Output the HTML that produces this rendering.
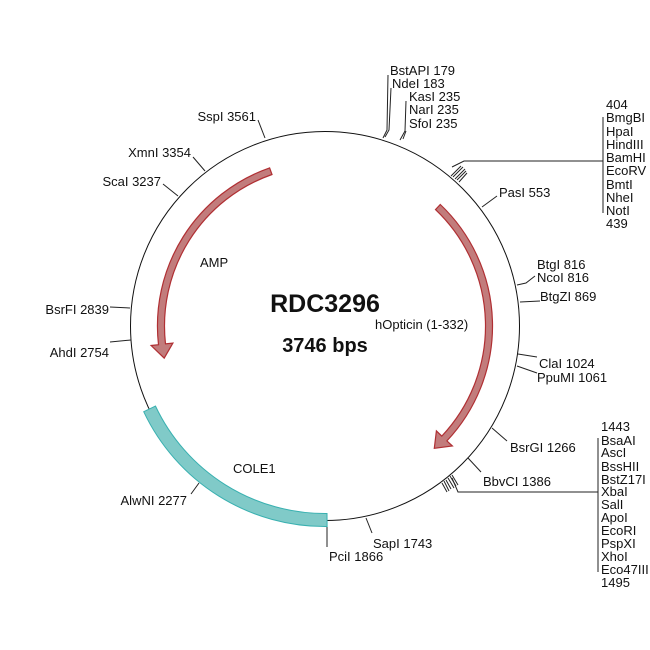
<!DOCTYPE html>
<html><head><meta charset="utf-8"><style>
html,body{margin:0;padding:0;background:#fff;width:650px;height:650px;overflow:hidden}
svg text{font-family:"Liberation Sans",Arial,sans-serif;font-size:13px;fill:#111}
</style></head><body>
<svg width="650" height="650" viewBox="0 0 650 650" xmlns="http://www.w3.org/2000/svg">
<circle cx="325" cy="326" r="194.5" fill="none" stroke="#111" stroke-width="1"/>
<!-- features -->
<path d="M440.3,204.5 A167.5,167.5 0 0 1 446.9,440.9 L452.4,446.0 L434.3,448.3 L436.4,430.9 L441.8,436.1 A160.5,160.5 0 0 0 435.5,209.6 Z" fill="#c27c7c" stroke="#b02f33" stroke-width="1.2"/>
<path d="M269.6,167.9 A167.5,167.5 0 0 0 158.5,344.7 L151.1,345.5 L164.2,358.1 L172.9,343.1 L165.5,343.9 A160.5,160.5 0 0 1 272.0,174.5 Z" fill="#c27c7c" stroke="#b02f33" stroke-width="1.2"/>
<path d="M143.7,411.7 A200.5,200.5 0 0 0 327.1,526.5 L327.0,513.5 A187.5,187.5 0 0 1 155.5,406.1 Z" fill="#80cac8" stroke="#38b0b0" stroke-width="1"/>
<!-- ticks -->
<g stroke="#222" stroke-width="1" fill="none">
<line x1="265" y1="138" x2="258" y2="120"/>
<line x1="205" y1="171" x2="193" y2="157"/>
<line x1="178" y1="196" x2="163" y2="184"/>
<line x1="130" y1="308" x2="110" y2="307"/>
<line x1="131" y1="340" x2="110" y2="342"/>
<line x1="199" y1="483" x2="191" y2="494"/>
<line x1="327" y1="527" x2="327" y2="547"/>
<line x1="366" y1="518" x2="372" y2="533"/>
<line x1="468" y1="458" x2="481" y2="472"/>
<line x1="492" y1="428" x2="507" y2="441"/>
<line x1="518" y1="354" x2="537" y2="357"/>
<line x1="517" y1="366" x2="537" y2="373"/>
<line x1="520" y1="302" x2="540" y2="301"/>
<polyline points="517,285 526,283 535,276"/>
<line x1="482" y1="207" x2="497" y2="196"/>
<polyline points="383,138 387,130 388,75"/>
<polyline points="385,137 389,130 391,88"/>
<polyline points="400,140 405,131 406,101"/>
<line x1="403" y1="139" x2="406" y2="131"/>
<!-- group 404-439 -->
<polyline points="452,167 464,161 603,161"/>
<line x1="603" y1="117" x2="603" y2="213"/>
<line x1="451" y1="176" x2="461" y2="166"/>
<line x1="453" y1="177" x2="463" y2="167"/>
<line x1="455" y1="179" x2="465" y2="169"/>
<line x1="457" y1="180" x2="466" y2="171"/>
<line x1="459" y1="182" x2="467" y2="173"/>
<!-- group 1443-1495 -->
<polyline points="452,478 458,492 598,492"/>
<line x1="598" y1="438" x2="598" y2="572"/>
<line x1="442" y1="483" x2="447" y2="492"/>
<line x1="444" y1="481" x2="449" y2="491"/>
<line x1="446" y1="480" x2="451" y2="489"/>
<line x1="448" y1="478" x2="454" y2="488"/>
<line x1="450" y1="476" x2="456" y2="486"/>
<line x1="452" y1="475" x2="458" y2="485"/>
</g>
<!-- labels -->
<g text-anchor="end">
<text x="256" y="121">SspI 3561</text>
<text x="191" y="157">XmnI 3354</text>
<text x="161" y="186">ScaI 3237</text>
<text x="109" y="314">BsrFI 2839</text>
<text x="109" y="357">AhdI 2754</text>
<text x="187" y="505">AlwNI 2277</text>
</g>
<text x="329" y="561">PciI 1866</text>
<text x="373" y="548">SapI 1743</text>
<text x="483" y="486">BbvCI 1386</text>
<text x="510" y="452">BsrGI 1266</text>
<text x="539" y="368">ClaI 1024</text>
<text x="537" y="382">PpuMI 1061</text>
<text x="540" y="301">BtgZI 869</text>
<text x="537" y="269">BtgI 816</text>
<text x="537" y="282">NcoI 816</text>
<text x="499" y="197">PasI 553</text>
<text x="390" y="75">BstAPI 179</text>
<text x="392" y="88">NdeI 183</text>
<text x="409" y="101">KasI 235</text>
<text x="409" y="114">NarI 235</text>
<text x="409" y="128">SfoI 235</text>
<g>
<text x="606" y="109">404</text>
<text x="606" y="122">BmgBI</text>
<text x="606" y="136">HpaI</text>
<text x="606" y="149">HindIII</text>
<text x="606" y="162">BamHI</text>
<text x="606" y="175">EcoRV</text>
<text x="606" y="189">BmtI</text>
<text x="606" y="202">NheI</text>
<text x="606" y="215">NotI</text>
<text x="606" y="228">439</text>
</g>
<g>
<text x="601" y="431">1443</text>
<text x="601" y="445">BsaAI</text>
<text x="601" y="457">AscI</text>
<text x="601" y="471">BssHII</text>
<text x="601" y="484">BstZ17I</text>
<text x="601" y="496">XbaI</text>
<text x="601" y="509">SalI</text>
<text x="601" y="522">ApoI</text>
<text x="601" y="535">EcoRI</text>
<text x="601" y="548">PspXI</text>
<text x="601" y="561">XhoI</text>
<text x="601" y="574">Eco47III</text>
<text x="601" y="587">1495</text>
</g>
<text x="200" y="267">AMP</text>
<text x="233" y="473">COLE1</text>
<text x="375" y="329">hOpticin (1-332)</text>
<text x="325" y="312" text-anchor="middle" style="font-size:25px;font-weight:bold">RDC3296</text>
<text x="325" y="352" text-anchor="middle" style="font-size:20px;font-weight:bold">3746 bps</text>
</svg>
</body></html>
